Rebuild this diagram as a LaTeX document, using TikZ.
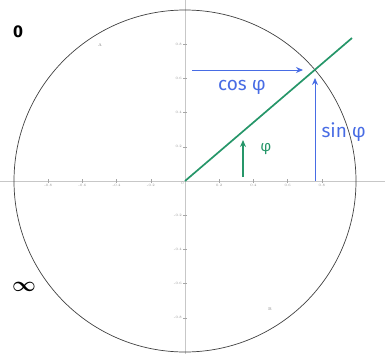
\documentclass[tikz,border=0pt]{standalone}
\usepackage{fontspec}
\newfontfamily\hand{Fira Sans}
\usetikzlibrary{arrows.meta,positioning}
\definecolor{penblue}{RGB}{72,108,228}
\definecolor{pengreen}{RGB}{38,150,105}

\begin{document}
\begin{tikzpicture}[
  x=1pt, y=1pt,
  axis/.style={draw=black!22, line width=0.8pt},
  tick/.style={draw=black!35, line width=0.5pt},
  ticklab/.style={font=\fontsize{3.5}{4}\selectfont, text=black!45, inner sep=1pt},
  unit/.style={draw=black!75, line width=0.7pt},
  ray/.style={draw=pengreen, line width=1.7pt},
  proj/.style={-{Stealth[length=7pt,width=6pt]}, draw=penblue, line width=1pt},
  bluelab/.style={font=\hand\fontsize{19}{20}\selectfont, text=penblue},
  greenlab/.style={font=\hand\fontsize{15}{16}\selectfont, text=pengreen},
  sidemark/.style={font=\hand\fontsize{17}{18}\selectfont\bfseries, text=black}
]
\useasboundingbox (-185,-173) rectangle (200,181);

% ================= Axes =================
\coordinate (O) at (0,0);
\coordinate (xl) at (-185,0);
\coordinate (xr) at (200,0);
\coordinate (yb) at (0,-173);
\coordinate (yt) at (0,181);
\draw[axis] (xl) -- (xr);
\draw[axis] (yb) -- (yt);
\foreach \v/\t in {-4/-0.8,-3/-0.6,-2/-0.4,-1/-0.2,1/0.2,2/0.4,3/0.6,4/0.8} {
  \draw[tick] (\v*34.2,-2) -- (\v*34.2,2);
  \node[ticklab, below] at (\v*34.2,-2) {\t};
  \draw[tick] (-2,\v*34.2) -- (2,\v*34.2);
  \node[ticklab, left] at (-2,\v*34.2) {\t};
}
\node[ticklab, below left] (zero) at (O) {0};

% ================= Unit circle =================
\draw[unit] (O) circle (171);
\node[font=\fontsize{4}{5}\selectfont, text=black!50] (ptA) at (-85,136) {A};
\node[font=\fontsize{4}{5}\selectfont, text=black!50] (ptB) at (85,-128) {B};

% ================= Ray and projections =================
\coordinate (P) at (40.6:171);
\coordinate (ray end) at (167,143);
\draw[ray] (O) -- (ray end);

\coordinate (cos start) at (7,111);
\coordinate (cos end) at (118,111);
\draw[proj] (cos start) -- (cos end);
\node[bluelab] (cosl) at (57,94) {cos φ};

\coordinate (sin foot) at (130,0);
\coordinate (sin top) at (130,103);
\draw[proj] (sin foot) -- (sin top);
\node[bluelab, anchor=west] (sinl) at (133,49) {sin φ};

% ================= Angle marker =================
\coordinate (ang foot) at (58,4);
\coordinate (ang top) at (58,41);
\draw[-{Stealth[length=7pt,width=6pt]}, draw=pengreen, line width=1.5pt]
  (ang foot) -- (ang top);
\node[greenlab] (phil) at (81,32) {φ};

% ================= Side marks =================
\node[sidemark] (zmark) at (-167,149) {0};
\node[sidemark, font=\fontsize{22}{22}\selectfont\boldmath] (imark) at (-161,-106) {$\infty$};

\end{tikzpicture}
\end{document}
